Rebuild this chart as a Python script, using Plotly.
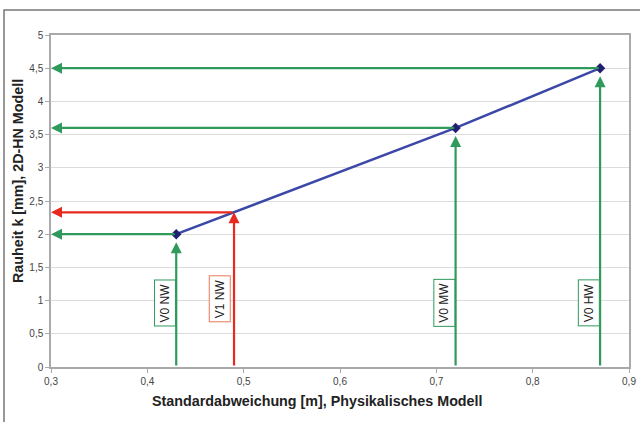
import plotly.graph_objects as go

# Measured points: standard deviation [m] (physical model) vs. roughness k [mm] (2D-HN model)
sigma = [0.43, 0.72, 0.87]
roughness = [2.0, 3.6, 4.5]
variant_labels = ["V0 NW", "V0 MW", "V0 HW"]

# Interpolated case
v1_sigma = 0.49
v1_roughness = 2.33
v1_label = "V1 NW"

x_ticks = [0.3, 0.4, 0.5, 0.6, 0.7, 0.8, 0.9]
y_ticks = [0, 0.5, 1, 1.5, 2, 2.5, 3, 3.5, 4, 4.5, 5]

x_title = "Standardabweichung [m], Physikalisches Modell"
y_title = "Rauheit k [mm], 2D-HN Modell"

GREEN = "#2f9a5c"
RED = "#e8291f"
BLUE = "#3c48a8"
NAVY = "#1f2170"
FONT = "Liberation Sans, Arial, sans-serif"

fig = go.Figure()

fig.add_trace(go.Scatter(
    x=sigma, y=roughness, mode="lines+markers",
    line=dict(color=BLUE, width=2.5),
    marker=dict(symbol="diamond", size=8, color=NAVY),
    showlegend=False, hoverinfo="x+y",
))

annotations = []

def arrow(x0, y0, x1, y1, color):
    annotations.append(dict(
        x=x1, y=y1, ax=x0, ay=y0, xref="x", yref="y", axref="x", ayref="y",
        text="", showarrow=True, arrowhead=2, arrowsize=1.0, arrowwidth=2.2,
        arrowcolor=color,
    ))

def tag(x, y, text, color, dx):
    annotations.append(dict(
        x=x, y=y, xref="x", yref="y", text=text, showarrow=False,
        textangle=-90, xshift=dx, font=dict(family=FONT, size=12, color="#222"),
        bgcolor="white", bordercolor=color, borderwidth=1, borderpad=3,
    ))

for xs, ys, lab in zip(sigma, roughness, variant_labels):
    arrow(xs, ys, x_ticks[0], ys, GREEN)            # horizontal to the k axis
    arrow(xs, 0, xs, ys - 0.12, GREEN)              # vertical up from the sigma axis
    tag(xs, 0.96, lab, GREEN, -11)

arrow(v1_sigma, v1_roughness, x_ticks[0], v1_roughness, RED)
arrow(v1_sigma, 0, v1_sigma, v1_roughness, RED)
tag(v1_sigma, 1.02, v1_label, "#e87a55", -14)

# axis titles, placed in pixel offsets from the plot area
annotations.append(dict(
    text=f"<b>{x_title}</b>", xref="paper", yref="paper", x=0.5, y=0,
    xshift=-23, yshift=-34, showarrow=False, xanchor="center", yanchor="middle",
    font=dict(size=14.3, color="#222", family=FONT),
))
annotations.append(dict(
    text=f"<b>{y_title}</b>", xref="paper", yref="paper", x=0, y=0.5,
    xshift=-33, yshift=20, showarrow=False, textangle=-90,
    xanchor="center", yanchor="middle",
    font=dict(size=14.3, color="#222", family=FONT),
))

# outer frame of the figure
shapes = [dict(type="rect", xref="paper", yref="paper",
               x0=-0.0813, x1=1.05, y0=-0.3, y1=1.0753,
               line=dict(color="#777", width=1.5), layer="below")]

fig.update_layout(
    width=640, height=422,
    margin=dict(l=51, r=11, t=35, b=55),
    plot_bgcolor="white", paper_bgcolor="white",
    showlegend=False,
    annotations=annotations, shapes=shapes,
    font=dict(family=FONT, size=10, color="#444"),
    xaxis=dict(
        range=[0.3, 0.9], tickvals=x_ticks, ticktext=[f"{v:.1f}".replace(".", ",") for v in x_ticks],
        showgrid=False, zeroline=False, showline=True, linecolor="#aaa", linewidth=1.5,
        mirror=True, ticks="outside", ticklen=4, tickcolor="#aaa",
        tickfont=dict(size=10, color="#444"), automargin=False,
    ),
    yaxis=dict(
        range=[0, 5], tickvals=y_ticks,
        ticktext=[(f"{v:g}").replace(".", ",") for v in y_ticks],
        showgrid=True, gridcolor="#dcdcdc", gridwidth=1,
        zeroline=False, showline=True, linecolor="#aaa", linewidth=1.5,
        mirror=True, ticks="outside", ticklen=4, tickcolor="#aaa",
        tickfont=dict(size=10, color="#444"), automargin=False,
    ),
)

fig.write_html("out.html")
